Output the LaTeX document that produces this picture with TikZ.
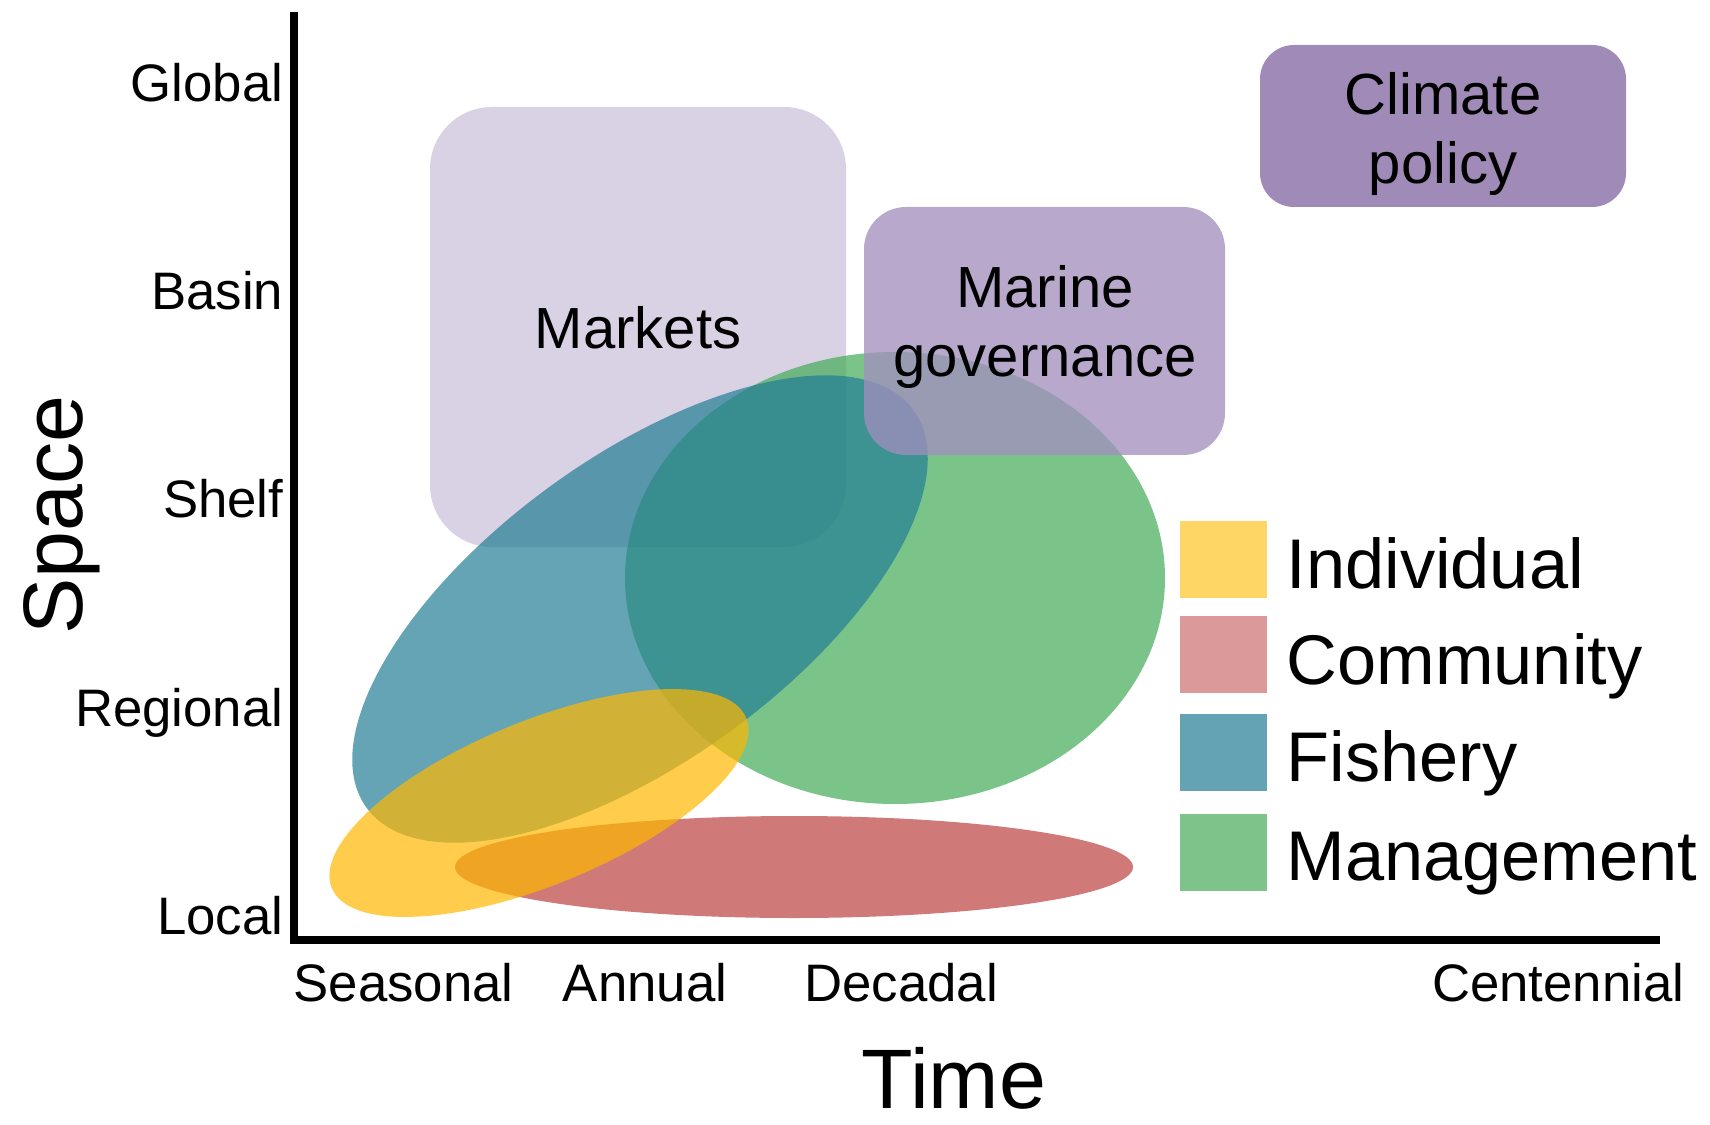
\documentclass[tikz,border=0pt]{standalone}
\usepackage{fontspec}
\setmainfont{Liberation Sans}
\usepackage{tikz}
\usepackage{xcolor}
\usetikzlibrary{positioning}

\definecolor{marketcol}{RGB}{217,209,228}
\definecolor{govcol}{RGB}{161,142,189}
\definecolor{climcol}{RGB}{160,138,184}
\definecolor{indivcol}{RGB}{255,182,0}
\definecolor{commcol}{RGB}{186,65,64}
\definecolor{fishcol}{RGB}{34,126,149}
\definecolor{mgmtcol}{RGB}{66,171,88}
\definecolor{indivkey}{RGB}{253,214,102}
\definecolor{commkey}{RGB}{219,154,153}
\definecolor{fishkey}{RGB}{100,163,180}
\definecolor{mgmtkey}{RGB}{125,195,138}

\begin{document}
\begin{tikzpicture}[x=0.01cm,y=-0.01cm,
  ticklabel/.style={font=\fontsize{15}{18}\selectfont, inner sep=0},
  axistitle/.style={font=\fontsize{24}{28}\selectfont, inner sep=0},
  boxlabel/.style={font=\fontsize{16.5}{19.8}\selectfont, inner sep=0, align=center},
  keylabel/.style={font=\fontsize{20}{24}\selectfont, inner sep=0, anchor=base west},
  blob/.style={fill opacity=.7}]
  \useasboundingbox (0,0) rectangle (1710,1125);
  % scale boxes
  \fill[marketcol,rounded corners=0.62cm] (430,107) rectangle (846,547);
  % ellipses
  \fill[commcol,blob] (794,867) ellipse[x radius=339, y radius=51];
  \fill[mgmtcol,blob] (895,578) ellipse[x radius=270, y radius=226];
  \fill[fishcol,blob,rotate around={36:(640,609)}] (640,609) ellipse[x radius=338, y radius=152];
  \fill[indivcol,blob,rotate around={22.3:(539,803)}] (539,803) ellipse[x radius=224, y radius=82];
  \fill[govcol,fill opacity=.77,rounded corners=0.42cm] (864,207) rectangle (1225,455);
  \fill[climcol,rounded corners=0.34cm] (1260,45) rectangle (1626,207);
  \node[boxlabel,anchor=base] at(638,349)(markets){Markets};
  \node[boxlabel] at(1045,327)(governance){Marine\\governance};
  \node[boxlabel] at(1443,134)(climate){Climate\\policy};
  % axes
  \coordinate (ytop) at (294,12);
  \coordinate (origin) at (294,940);
  \coordinate (xend) at (1660,940);
  \draw[line width=2.2pt] (ytop) -- (origin) -- (xend);
  \node[ticklabel,anchor=base east] at(284,102)(global){Global};
  \node[ticklabel,anchor=base east] at(284,310)(basin){Basin};
  \node[ticklabel,anchor=base east] at(284,518)(shelf){Shelf};
  \node[ticklabel,anchor=base east] at(284,726)(regional){Regional};
  \node[ticklabel,anchor=base east] at(284,934)(local){Local};
  \node[ticklabel,anchor=base west] at(293,1001)(seasonal){Seasonal};
  \node[ticklabel,anchor=base] at(645,1001)(annual){Annual};
  \node[ticklabel,anchor=base] at(901,1001)(decadal){Decadal};
  \node[ticklabel,anchor=base east] at(1685,1001)(centennial){Centennial};
  \node[axistitle,anchor=base] at(954,1108)(time){Time};
  \node[axistitle,anchor=base,rotate=90] at(82,515)(space){Space};
  % legend
  \fill[indivkey] (1180,521) rectangle (1267,598);
  \fill[commkey] (1180,616) rectangle (1267,693);
  \fill[fishkey] (1180,714) rectangle (1267,791);
  \fill[mgmtkey] (1180,814) rectangle (1267,891);
  \node[keylabel] at(1286,588)(individual){Individual};
  \node[keylabel] at(1286,684)(community){Community};
  \node[keylabel] at(1286,781)(fishery){Fishery};
  \node[keylabel] at(1286,880)(management){Management};
\end{tikzpicture}
\end{document}
